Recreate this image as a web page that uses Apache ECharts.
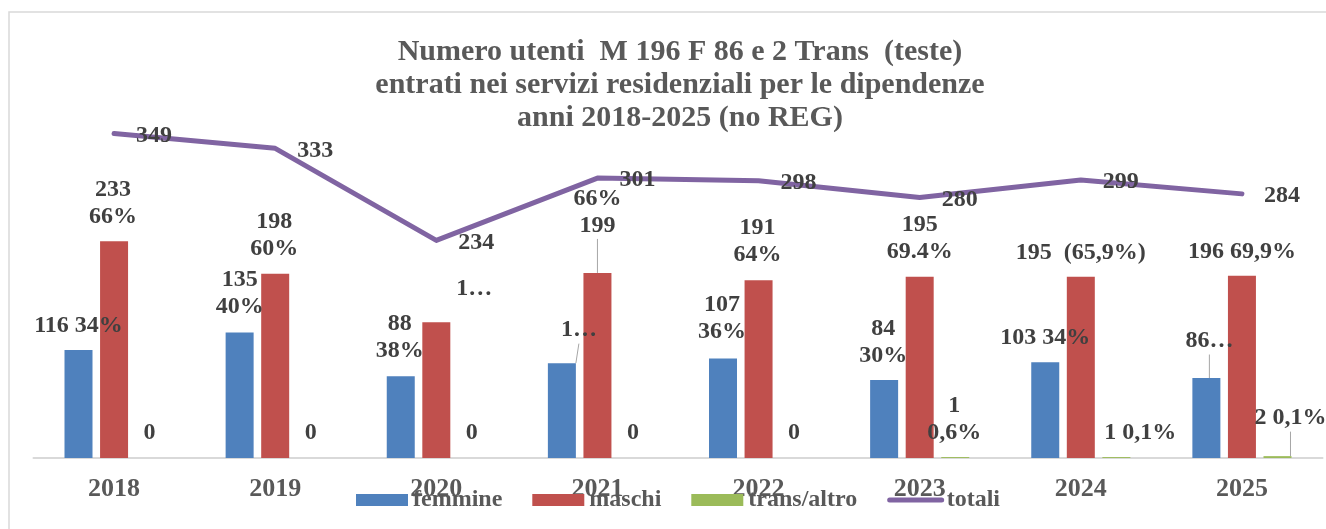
<!DOCTYPE html>
<html>
<head>
<meta charset="utf-8">
<script src="https://cdn.jsdelivr.net/npm/echarts@6/dist/echarts.min.js"></script>
<style>
  html, body { margin: 0; padding: 0; background: #fff; }
  #chart { width: 1326px; height: 529px; }
</style>
</head>
<body>
<div id="chart"></div>
<script>
// data
var years = ['2018', '2019', '2020', '2021', '2022', '2023', '2024', '2025']
var femmine = [116, 135, 88, 102, 107, 84, 103, 86]
var maschi = [233, 198, 146, 199, 191, 195, 195, 196]
var trans = [0, 0, 0, 0, 0, 1, 1, 2]
var totali = [349, 333, 234, 301, 298, 280, 299, 284]

// label texts as they appear (some are cut short in the original)
var femmineLabels = ['116 34%', '135\n40%', '88\n38%', '1…', '107\n36%', '84\n30%', '103 34%', '86…']
var maschiLabels = ['233\n66%', '198\n60%', '1…', '66%\n199', '191\n64%', '195\n69.4%', '195  (65,9%)', '196 69,9%']
var transLabels = ['0', '0', '0', '0', '0', '1\n0,6%', '1 0,1%', '2 0,1%']

// label placement, relative to the bar's top-left corner
var femmineLabelPos = [[14, -24], [14, -39], [13, -39], [31, -33], [13, -40], [13, -38], [14, -24], [17, -37]]
var maschiLabelPos = [[13, -38], [13, -39], [52, -33], [14, -61], [13, -39], [14, -38], [14, -24], [14, -24]]
var transLabelPos = [[14, -25], [14, -25], [14, -25], [14, -25], [14, -25], [13, -38], [38, -24], [27, -38]]
var femmineLeader = [3, 7]
var maschiLeader = [3]
var transLeader = [7]

var serif = '"Liberation Serif", "Times New Roman", serif'

function barData(values, texts, pos, leaders) {
  return values.map(function (v, i) {
    return {
      value: v,
      label: { formatter: texts[i], position: pos[i] },
      labelLine: { show: leaders.indexOf(i) >= 0 }
    }
  })
}

function barSeries(name, color, values, texts, pos, leaders) {
  return {
    name: name,
    type: 'bar',
    barWidth: 28,
    barGap: '27%',
    itemStyle: { color: color },
    label: {
      show: true,
      align: 'center',
      verticalAlign: 'middle',
      color: '#404040',
      fontFamily: serif,
      fontWeight: 'bold',
      fontSize: 24,
      lineHeight: 27
    },
    labelLine: { lineStyle: { color: '#a6a6a6', width: 1 } },
    data: barData(values, texts, pos, leaders)
  }
}

var chart = echarts.init(document.getElementById('chart'))
chart.setOption({
  animation: false,
  title: {
    text: 'Numero utenti  M 196 F 86 e 2 Trans  (teste)\nentrati nei servizi residenziali per le dipendenze\nanni 2018-2025 (no REG)',
    left: 675,
    top: 31,
    textAlign: 'center',
    textStyle: {
      fontFamily: serif,
      fontWeight: 'bold',
      fontSize: 30,
      lineHeight: 33,
      color: '#595959'
    }
  },
  graphic: [{
    type: 'rect',
    silent: true,
    shape: { x: 9, y: 12, width: 1400, height: 600 },
    style: { fill: 'none', stroke: '#d9d9d9', lineWidth: 1.5 }
  }],
  legend: {
    left: 351,
    top: 483,
    itemWidth: 52,
    itemHeight: 12,
    itemGap: 30,
    textStyle: {
      fontFamily: serif,
      fontWeight: 'bold',
      fontSize: 24,
      color: '#595959'
    },
    data: [
      { name: 'femmine', icon: 'rect' },
      { name: 'maschi', icon: 'rect' },
      { name: 'trans/altro', icon: 'rect' },
      { name: 'totali', itemStyle: { opacity: 0 }, lineStyle: { width: 5, cap: 'round' } }
    ]
  },
  grid: { left: 33.5, right: 3.5, top: 86, bottom: 71 },
  xAxis: {
    type: 'category',
    data: years,
    axisLine: { lineStyle: { color: '#d9d9d9', width: 2 } },
    axisTick: { show: false },
    axisLabel: {
      margin: 18,
      fontFamily: serif,
      fontWeight: 'bold',
      fontSize: 26,
      color: '#595959'
    }
  },
  yAxis: {
    type: 'value',
    min: 0,
    max: 400,
    show: false,
    splitLine: { show: false }
  },
  series: [
    barSeries('femmine', '#4f81bd', femmine, femmineLabels, femmineLabelPos, femmineLeader),
    barSeries('maschi', '#c0504d', maschi, maschiLabels, maschiLabelPos, maschiLeader),
    barSeries('trans/altro', '#9bbb59', trans, transLabels, transLabelPos, transLeader),
    {
      name: 'totali',
      type: 'line',
      data: totali,
      symbol: 'circle',
      symbolSize: 0,
      lineStyle: { color: '#8064a2', width: 5, cap: 'round', join: 'round' },
      itemStyle: { color: '#8064a2' },
      label: {
        show: true,
        position: 'right',
        distance: 22,
        offset: [0, 2],
        color: '#404040',
        fontFamily: serif,
        fontWeight: 'bold',
        fontSize: 24
      }
    }
  ]
})
</script>
</body>
</html>
